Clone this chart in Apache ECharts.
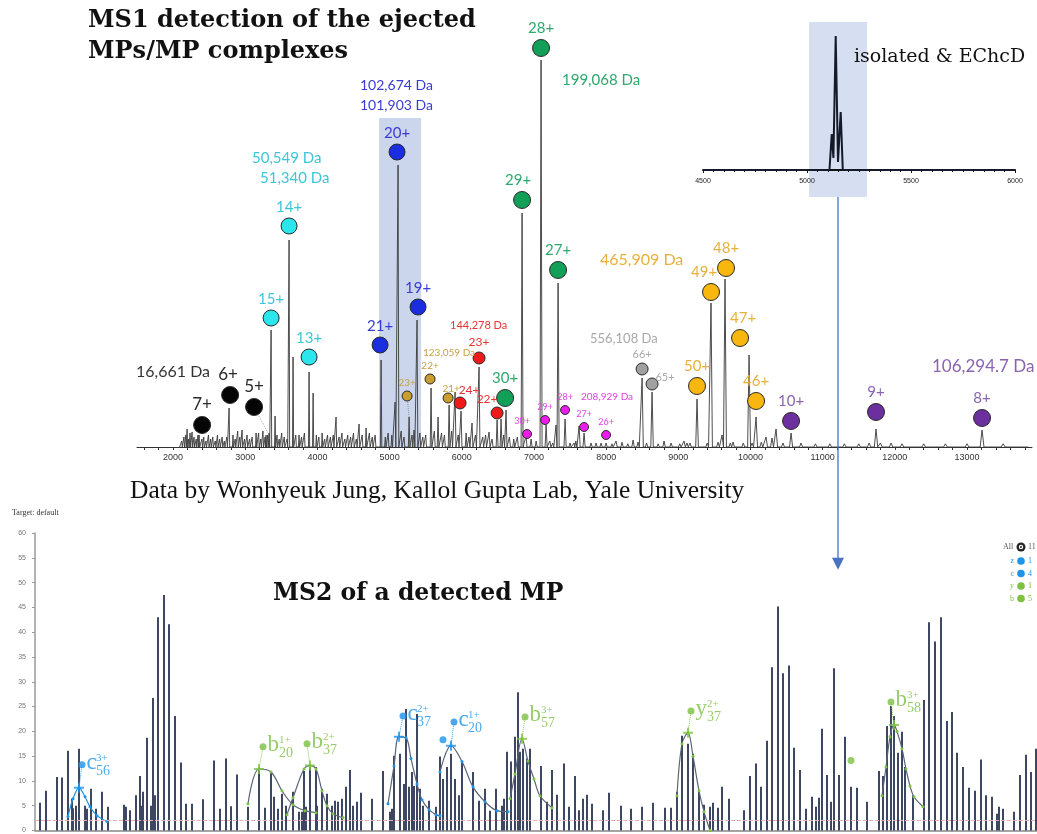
<!DOCTYPE html>
<html><head><meta charset="utf-8">
<script src="https://cdn.jsdelivr.net/npm/echarts@6/dist/echarts.min.js"></script>
<style>html,body{margin:0;padding:0;background:#fff}#c{width:1037px;height:834px}</style>
</head><body><div id="c"></div><script>
// ---------------- MS1 spectrum (m/z, relative intensity) ----------------
const ms1PeakMz  = [2194,2263,2360,2776,2956,3150,3288,3330,3358,3413,3607,3662,3745,3884,3940,4258,4577,4674,4882,5076,5117,5270,5339,5380,5574,5671,5824,5907,5990,6142,6239,6378,6489,6544,6613,6835,6890,7098,7168,7306,7334,7431,7556,7625,7694,7791,7999,8137,8373,8442,8498,8636,8802,9079,9162,9259,9453,9606,9647,9758,9980,10022,10077,10215,10298,10354,10562,11643,11739,11947,13208];
const ms1PeakInt = [4.5,3.75,3,9.75,4.25,3.5,3,3.5,29.25,7.75,51.75,22.5,3,18.75,13.5,7.5,5.75,4.75,21.75,11.25,70.5,7.5,4.25,31.75,14.75,7.5,10.5,13.75,9,6,20,3.75,6.75,7,9.25,58.5,2.75,96.75,5.5,5.5,41,7,1,5.25,3.5,1,1,1.5,1.75,1.25,17.25,13.75,1.5,1.5,1,12,36,3,42,1.25,23,1,7.5,2.5,2.25,4.5,3.5,1,4.5,1,4.25];
const ms1NoiseMz  = [2120,2150,2175,2215,2235,2290,2320,2345,2400,2425,2455,2490,2520,2550,2585,2615,2645,2680,2710,2745,2830,2860,2895,2925,2990,3025,3060,3095,3185,3215,3245,3275,3310,3440,3470,3505,3540,3580,3700,3780,3820,3985,4020,4065,4100,4140,4180,4220,4300,4340,4380,4420,4460,4500,4540,4620,4720,4760,4800,4940,4980,5030,5160,5200,5310,5420,5460,5500,5620,5720,5760,5860,5950,6060,6100,6190,6290,6330,6420,6580,6660,6720,6770,6960,7030,7220,7260,7500,7580,7860,7930,8080,8220,8300,8560,8720,8900,9020,9120,9400,9550,9720,9900,10150,10450,10700,10900,11100,11300,11500,11800,12100,12400,12700,13000,13500];
const ms1NoiseInt = [1.5,2.5,3,2,3.5,2.5,2,3,2,2.5,1.5,3,2,2.5,1.5,3,2,2.5,1.5,2.5,3,2,4,2.5,2,3,2,2.5,3.5,2,4,2.5,3,3,2,3.5,2.5,2,3,2.5,3.5,3,2.5,3.5,2,3,2.5,3,2.5,3.5,2,3,2.5,3.5,2,3,3.5,2.5,3,2.5,3.5,3,4,2.5,3,3.5,2.5,3,4,3.5,3,4,3,3.5,2.5,3,2.5,3,2,3,2.5,2,2.5,2,1.5,1.5,1,1,1.5,1,1,0.8,1.2,0.8,1,0.8,1,0.8,1,1,1.2,1,1,1.2,1,1,0.8,0.8,0.8,0.8,1,0.8,0.8,0.8,0.8,0.8];
const ms1TickLabels = [2000,3000,4000,5000,6000,7000,8000,9000,10000,11000,12000,13000];

// charge-state markers (m/z, marker height, label)
const blackMz = [2402,2790,3122], blackInt = [5.5,13,10], blackLab = ['7+','6+','5+'];
const cyanMz = [3358,3607,3884], cyanInt = [32.25,55.25,22.5], cyanLab = ['15+','14+','13+'];
const blueMz = [4868,5103,5394], blueInt = [25.5,73.75,35], blueLab = ['21+','20+','19+'];
const goldMz = [5242,5560,5810], goldInt = [12.75,17,12.25], goldLab = ['23+','22+','21+'];
const redMz = [5976,6239,6489], redInt = [11,22.25,8.5], redLab = ['24+','23+','22+'];
const greenMz = [6600,6835,7098,7334], greenInt = [12.25,61.75,99.75,44.25], greenLab = ['30+','29+','28+','27+'];
const magMz = [6904,7154,7431,7694,7999], magInt = [3.25,6.75,9.25,5,3], magLab = ['30+','29+','28+','27+','26+'];
const grayMz = [8498,8636], grayInt = [19.5,15.75], grayLab = ['66+','65+'];
const orangeMz = [9259,9453,9661,9855,10077], orangeInt = [15.25,38.75,44.75,27.25,11.5], orangeLab = ['50+','49+','48+','47+','46+'];
const purpleMz = [10562,11739,13208], purpleInt = [6.5,8.75,7.25], purpleLab = ['10+','9+','8+'];
// dotted leader lines marker -> peak
const leaderFromMz = [3122,5242], leaderFromInt = [10,12.75], leaderToMz = [3330,5270], leaderToInt = [3,7.5];
// isolated window (m/z range + height)
const isoWindowMz = [4854,5436], isoWindowInt = 82.25;

// ---------------- inset: isolated ions ----------------
const insetMz  = [4500,5108,5119,5127,5138,5149,5162,5172,6000];
const insetInt = [0,0,25.7,8.6,95.7,5.7,41.4,0,0];
const insetWindowMz = [5010,5288], insetWindowInt = [105.7,-19.3];

// ---------------- MS2 spectrum ----------------
const ms2Pos = [40,46,57,62,68,72,73,76,79,85,87,91,96,102,108,124,126,130,136,140,142,143,147,151,153,155,158,164,169,175,181,186,192,203,214,220,226,231,237,248,259,265,271,274,278,
282,286,293,299,302,304,306,310,316,317,322,327,332,335,338,342,346,350,353,357,361,372,383,390,392,394,400,404,406,409,412,414,417,420,423,429,436,440,443,447,451,455,459,462,473,479,485,490,496,502,504,507,511,515,518,520,523,527,530,
541,547,552,557,564,569,575,579,583,587,592,603,609,621,631,642,653,665,671,677,682,688,693,699,704,710,713,718,722,729,744,750,756,761,767,772,778,783,789,
794,800,806,812,816,819,822,827,831,834,839,845,851,857,867,879,883,887,891,894,898,902,905,913,924,929,935,941,947,952,957,963,969,975,981,986,992,997,999,1003,1014,1020,1026,1031,1036];
const ms2Int = [5.6,8.0,10.8,10.7,16.1,6.4,4.5,5.0,16.5,5.0,4.4,8.4,4.4,7.8,4.8,5.2,4.8,4.1,7.1,11.0,5.0,7.8,18.7,5.0,26.7,7.1,43.0,47.5,41.6,23.1,13.7,5.4,5.4,6.3,14.1,4.4,14.5,4.9,11.3,4.8,12.4,4.6,11.9,6.8,4.4,
7.4,5.0,7.8,3.8,3.8,12.0,4.8,12.8,12.8,5.0,8.4,7.4,5.0,6.0,5.8,6.4,8.8,12.2,5.0,5.8,7.6,6.4,12.0,3.8,4.4,15.1,15.5,9.4,24.5,8.8,11.8,9.0,23.5,8.4,5.0,6.0,4.8,14.9,10.4,12.8,15.5,10.4,7.1,13.9,11.8,6.0,8.4,4.0,8.4,5.0,6.4,15.9,13.9,18.9,27.9,15.9,16.5,14.5,16.5,
13.0,5.8,12.2,7.2,13.5,4.8,11.0,4.1,6.4,7.2,5.4,4.1,7.6,5.0,4.4,4.8,5.6,4.6,4.6,7.8,19.1,17.5,15.5,7.8,5.2,4.8,5.6,4.6,8.8,6.4,4.1,11.0,13.5,8.8,18.1,32.9,45.2,31.7,33.3,
16.7,12.2,4.4,6.8,4.8,6.6,20.5,11.2,5.8,32.7,11.2,18.9,8.8,8.6,5.8,12.0,11.0,21.1,25.1,23.1,15.7,19.9,12.8,7.1,26.3,42.0,38.1,43.0,22.1,23.9,15.7,12.8,8.6,8.0,14.3,7.1,6.8,3.4,4.8,4.4,3.8,11.2,15.3,11.8,16.5];
const ms2Threshold = 2;
const ms2YTicks = [0,5,10,15,20,25,30,35,40,45,50,55,60];
const arrowTipInt = 52.6;

// fragment annotations
const annKind = ['c','b','b','c','c','b','y','b'];
const annSup  = ['3+','1+','2+','2+','1+','3+','2+','3+'];
const annSub  = ['56','20','37','37','20','57','37','58'];
const annPos  = [82,263,307,403,454,525,691,891];
const annInt  = [13.25,16.9,17.5,23.1,21.9,22.9,24.1,25.9];
const annPeakPos = [79,259,310,399,451,522,688,894];
const annPeakInt = [8.6,12.4,13.1,18.9,17.1,18.5,19.7,21.3];
const loneDotPos = [443,851], loneDotInt = [18.3,14.1], loneDotKind = ['c','b'];
// isotope envelope fits
const envC56X = [68,73,79,85,90,97,107],            envC56Y = [2.8,6.4,8.6,6.8,4.8,3.0,1.8];
const envB20X = [248,259,271,282,293,305,316],      envB20Y = [5.4,12.4,11.8,8.0,5.2,4.0,3.6];
const envB37X = [287,293,304,310,316,322,327,333,343], envB37Y = [3.2,6.6,12.4,13.1,12.4,8.0,5.0,3.4,2.6];
const envC37X = [388,394,399,406,411,417,422,429,436,440], envC37Y = [5.4,13.0,18.9,18.7,14.5,9.4,6.2,4.2,3.2,3.0];
const envC20X = [440,451,462,473,485,497,508],      envC20Y = [11.8,17.1,13.9,8.8,5.8,4.0,3.8];
const envB57X = [510,515,522,528,534,540,552],      envB57Y = [6.4,11.4,18.5,14.0,10.4,7.0,4.6];
const envY37X = [677,682,688,693,699,704,710],      envY37Y = [7.0,17.5,19.7,15.0,8.0,3.8,0];
const envB58X = [882,886,890,894,897,902,906,910,914,923], envB58Y = [7.0,12.8,18.9,21.3,20.0,16.5,12.4,9.0,6.8,4.8];
const legendIon = ['z','c','y','b'], legendCount = ['1','4','1','5'];

// ---------------- build ----------------
const BLUE = '#1e94e6', GREEN = '#7cc142';
const chart = echarts.init(document.getElementById('c'));

function profile(mzs, ints) {
  const pts = [];
  mzs.forEach((m, i) => { const w = Math.max(8, m * 0.002); pts.push([m - w, 0], [m, ints[i]], [m + w, 0]); });
  pts.sort((a, b) => a[0] - b[0]);
  return pts;
}
const ms1Profile = profile(ms1PeakMz.concat(ms1NoiseMz), ms1PeakInt.concat(ms1NoiseInt));
ms1Profile.unshift([2090, 0]);
ms1Profile.push([13850, 0]);

const labelOffsets = {
  'black:6+':[-2,0], 'gold:21+':[3,4], 'red:24+':[9,3], 'red:22+':[-10,2], 'green:29+':[-4,0],
  'mag:30+':[-5,0], 'gray:65+':[13,8], 'orange:49+':[-7,0], 'orange:47+':[3,0]
};
function chargeSeries(key, mz, it, lab, color, lc, size, fs) {
  return {
    type: 'scatter', xAxisIndex: 0, yAxisIndex: 0, z: 5,
    symbolSize: size,
    itemStyle: { color: color, borderColor: '#2a2a2a', borderWidth: 1, opacity: 1 },
    data: mz.map((m, i) => {
      const d = { value: [m, it[i]] };
      const o = labelOffsets[key + ':' + lab[i]];
      if (o) d.label = { offset: o };
      return d;
    }),
    label: { show: true, position: 'top', distance: 3, formatter: p => lab[p.dataIndex],
      color: lc, fontSize: fs, fontFamily: 'Lato' }
  };
}

const ms2Bars = ms2Pos.map((x, i) => [x, ms2Int[i]]);
function env(xs, ys, lineColor, dotColor) {
  return { type: 'line', xAxisIndex: 2, yAxisIndex: 2, smooth: 0.35, z: 4,
    data: xs.map((x, i) => [x, ys[i]]), symbol: 'circle', symbolSize: 3,
    itemStyle: { color: dotColor }, lineStyle: { color: lineColor, width: 1.2 } };
}
const PLUS = 'path://M4,0 L6,0 L6,4 L10,4 L10,6 L6,6 L6,10 L4,10 L4,6 L0,6 L0,4 L4,4 Z';
const annColor = k => (k === 'c' || k === 'z') ? BLUE : GREEN;
const SERIFF = 'Liberation Serif';

const series = [
  { type: 'line', xAxisIndex: 0, yAxisIndex: 0, data: ms1Profile, symbol: 'none', z: 2,
    lineStyle: { color: '#3a3a3a', width: 0.9 } },
  chargeSeries('black', blackMz, blackInt, blackLab, '#050505', '#2a2a2a', 17, 17),
  chargeSeries('cyan', cyanMz, cyanInt, cyanLab, '#2ce6ee', '#3cc6da', 16, 15),
  chargeSeries('blue', blueMz, blueInt, blueLab, '#1a2ee0', '#3a3ad6', 16, 15),
  chargeSeries('gold', goldMz, goldInt, goldLab, '#c99e2e', '#c9a040', 10, 10),
  chargeSeries('red', redMz, redInt, redLab, '#ee1a1a', '#e63434', 12, 12),
  chargeSeries('green', greenMz, greenInt, greenLab, '#12a058', '#2ea86c', 17, 15),
  chargeSeries('mag', magMz, magInt, magLab, '#e81ee8', '#e040e0', 9, 9),
  chargeSeries('gray', grayMz, grayInt, grayLab, '#a0a0a0', '#a8a8a8', 12, 11),
  chargeSeries('orange', orangeMz, orangeInt, orangeLab, '#f8b70e', '#e8b03c', 17, 15),
  chargeSeries('purple', purpleMz, purpleInt, purpleLab, '#6b2f9e', '#8a64b0', 17, 15),
  { type: 'lines', coordinateSystem: 'cartesian2d', xAxisIndex: 0, yAxisIndex: 0, z: 3,
    data: leaderFromMz.map((m, i) => ({ coords: [[m, leaderFromInt[i]], [leaderToMz[i], leaderToInt[i]]] })),
    lineStyle: { color: '#555', width: 1, type: 'dotted' } },
  { type: 'line', xAxisIndex: 1, yAxisIndex: 1, data: insetMz.map((m, i) => [m, insetInt[i]]),
    symbol: 'none', z: 3, lineStyle: { color: '#151a28', width: 2 } },
  { type: 'bar', xAxisIndex: 2, yAxisIndex: 2, data: ms2Bars, barWidth: 2, z: 2,
    itemStyle: { color: '#3d4762' },
    markLine: { silent: true, symbol: 'none', label: { show: false },
      lineStyle: { color: '#eab0b0', type: 'dashed', width: 1 }, data: [{ yAxis: ms2Threshold }] } },
  env(envC56X, envC56Y, BLUE, BLUE),
  env(envB20X, envB20Y, '#5b6478', GREEN),
  env(envB37X, envB37Y, '#5b6478', GREEN),
  env(envC37X, envC37Y, '#5b6478', BLUE),
  env(envC20X, envC20Y, '#5b6478', BLUE),
  env(envB57X, envB57Y, '#5b6478', GREEN),
  env(envY37X, envY37Y, '#5b6478', GREEN),
  env(envB58X, envB58Y, '#5b6478', GREEN),
  { type: 'scatter', xAxisIndex: 2, yAxisIndex: 2, z: 6, symbol: PLUS, symbolSize: 10,
    data: annPeakPos.map((x, i) => ({ value: [x, annPeakInt[i]], itemStyle: { color: annColor(annKind[i]) } })) },
  { type: 'lines', coordinateSystem: 'cartesian2d', xAxisIndex: 2, yAxisIndex: 2, z: 5,
    data: annPos.map((x, i) => ({ coords: [[x, annInt[i]], [annPeakPos[i], annPeakInt[i]]],
      lineStyle: { color: annColor(annKind[i]) } })),
    lineStyle: { width: 1, type: 'dotted', opacity: 0.9 } },
  { type: 'scatter', xAxisIndex: 2, yAxisIndex: 2, z: 7, symbolSize: 7,
    data: annPos.map((x, i) => ({ value: [x, annInt[i]], itemStyle: { color: annColor(annKind[i]) },
      label: { color: annColor(annKind[i]) } })),
    label: { show: true, position: 'right', distance: 1, formatter: p => annKind[p.dataIndex],
      fontSize: 23, fontFamily: SERIFF, lineHeight: 23, offset: [0, -2] } },
  { type: 'scatter', xAxisIndex: 2, yAxisIndex: 2, z: 7, symbolSize: 0,
    data: annPos.map((x, i) => ({ value: [x, annInt[i]], label: { color: annColor(annKind[i]),
      distance: annKind[i] === 'c' ? 14 : 16 } })),
    label: { show: true, position: 'right', formatter: p => '{p|' + annSup[p.dataIndex] + '}\n{q|' + annSub[p.dataIndex] + '}',
      fontFamily: SERIFF, offset: [0, 1],
      rich: { p: { fontSize: 11, lineHeight: 11, fontFamily: SERIFF }, q: { fontSize: 14, lineHeight: 15, fontFamily: SERIFF } } } },
  { type: 'scatter', xAxisIndex: 2, yAxisIndex: 2, z: 7, symbolSize: 7,
    data: loneDotPos.map((x, i) => ({ value: [x, loneDotInt[i]], itemStyle: { color: annColor(loneDotKind[i]) } })) }
];

const ms1MinorTicks = [];
for (let v = 1600; v <= 13800; v += 200) ms1MinorTicks.push(v);
const plain = v => String(v);

chart.setOption({
  animation: false,
  backgroundColor: '#fff',
  grid: [
    { left: 137, width: 895, top: 47, height: 400 },
    { left: 703, width: 312, top: 30, height: 140 },
    { left: 35, right: 0, top: 533, height: 299 }
  ],
  xAxis: [
    { gridIndex: 0, type: 'value', min: 1500, max: 13900,
      axisLine: { lineStyle: { color: '#333', width: 1 } },
      axisTick: { customValues: ms1MinorTicks, length: 3, lineStyle: { color: '#333' } },
      axisLabel: { customValues: ms1TickLabels, formatter: plain, fontSize: 9, color: '#333', margin: 6, fontFamily: 'Liberation Sans' },
      splitLine: { show: false } },
    { gridIndex: 1, type: 'value', min: 4500, max: 6000, interval: 500,
      axisLine: { lineStyle: { color: '#111', width: 2 } },
      axisTick: { length: 3, lineStyle: { color: '#111' } },
      minorTick: { show: true, splitNumber: 10, length: 2, lineStyle: { color: '#111' } },
      axisLabel: { formatter: plain, fontSize: 7, color: '#222', margin: 8, fontFamily: 'Liberation Sans' },
      splitLine: { show: false } },
    { gridIndex: 2, type: 'value', min: 35, max: 1037,
      axisLine: { lineStyle: { color: '#888', width: 1.5 } },
      axisTick: { show: false }, axisLabel: { show: false }, splitLine: { show: false } }
  ],
  yAxis: [
    { gridIndex: 0, type: 'value', min: 0, max: 100, show: false, splitLine: { show: false } },
    { gridIndex: 1, type: 'value', min: 0, max: 100, show: false, splitLine: { show: false } },
    { gridIndex: 2, type: 'value', min: 0, max: 60, interval: 5,
      axisLine: { show: true, lineStyle: { color: '#999', width: 1.5 } },
      axisTick: { show: true, length: 3, lineStyle: { color: '#999' } },
      axisLabel: { fontSize: 7, color: '#777', margin: 9, fontFamily: 'Liberation Sans',
        customValues: ms2YTicks },
      splitLine: { show: false } }
  ],
  series: series
});

// ---------- overlay graphics positioned through the axes ----------
const w0 = chart.convertToPixel({ gridIndex: 0 }, [isoWindowMz[0], isoWindowInt]);
const w1 = chart.convertToPixel({ gridIndex: 0 }, [isoWindowMz[1], 0]);
const i0 = chart.convertToPixel({ gridIndex: 1 }, [insetWindowMz[0], insetWindowInt[0]]);
const i1 = chart.convertToPixel({ gridIndex: 1 }, [insetWindowMz[1], insetWindowInt[1]]);
const tip = chart.convertToPixel({ gridIndex: 2 }, [500, arrowTipInt]);
const ax = (i0[0] + i1[0]) / 2;

function txt(x, y, s, size, fill, family, weight, align) {
  return { type: 'text', x: x, y: y, z: 10, style: { text: s, fill: fill,
    font: (weight || 'normal') + ' ' + size + 'px ' + family,
    align: align || 'left', verticalAlign: 'middle', textAlign: align || 'left', textVerticalAlign: 'middle' } };
}
const SERIF = '"Liberation Serif"';
const HEAVY = '"DejaVu Serif"';
const g = [
  { type: 'rect', z: -1, shape: { x: w0[0], y: w0[1], width: w1[0] - w0[0], height: w1[1] - w0[1] },
    style: { fill: '#cbd6ec' } },
  { type: 'rect', z: -1, shape: { x: i0[0], y: i0[1], width: i1[0] - i0[0], height: i1[1] - i0[1] },
    style: { fill: '#d5dff1' } },
  { type: 'line', z: 10, shape: { x1: ax, y1: i1[1], x2: ax, y2: tip[1] - 11 },
    style: { stroke: '#4a72c2', lineWidth: 1.3 } },
  { type: 'polygon', z: 10, shape: { points: [[ax - 6, tip[1] - 12], [ax + 6, tip[1] - 12], [ax, tip[1]]] },
    style: { fill: '#4a72c2' } },
  txt(88, 21, 'MS1 detection of the ejected', 24, '#111', HEAVY, 'bold'),
  txt(88, 52, 'MPs/MP complexes', 24, '#111', HEAVY, 'bold'),
  txt(854, 57, 'isolated & EChcD', 19, '#111', HEAVY),
  txt(130, 491, 'Data by Wonhyeuk Jung, Kallol Gupta Lab, Yale University', 25.5, '#111', SERIF),
  txt(273, 594, 'MS2 of a detected MP', 23.5, '#111', HEAVY, 'bold'),
  txt(12, 513, 'Target: default', 8, '#333', SERIF),
  txt(136, 372, '16,661 Da', 16, '#333', 'Lato'),
  txt(252, 158, '50,549 Da', 15, '#3cc6da', 'Lato'),
  txt(260, 178, '51,340 Da', 15, '#3cc6da', 'Lato'),
  txt(360, 85, '102,674 Da', 14, '#3a3ad6', 'Lato'),
  txt(360, 105, '101,903 Da', 14, '#3a3ad6', 'Lato'),
  txt(562, 80, '199,068 Da', 15, '#2ea86c', 'Lato'),
  txt(450, 325, '144,278 Da', 11, '#e63434', 'Lato'),
  txt(423, 353, '123,059 Da', 10, '#c9a040', 'Lato'),
  txt(590, 339, '556,108 Da', 13, '#a8a8a8', 'Lato'),
  txt(600, 260, '465,909 Da', 16, '#e8b03c', 'Lato'),
  txt(581, 397, '208,929 Da', 10, '#e040e0', 'Lato'),
  txt(932, 367, '106,294.7 Da', 17, '#8a64b0', 'Lato'),
  txt(1003, 547, 'All', 8, '#555', SERIF),
  { type: 'circle', z: 10, shape: { cx: 1021, cy: 547, r: 4.5 }, style: { fill: '#222' } },
  { type: 'circle', z: 11, shape: { cx: 1021, cy: 547, r: 2.2 }, style: { fill: '#fff' } },
  { type: 'circle', z: 12, shape: { cx: 1021, cy: 547, r: 1 }, style: { fill: '#222' } },
  txt(1028, 547, '11', 8, '#555', SERIF)
];
legendIon.forEach((k, i) => {
  const y = 561 + i * 12.5, c = annColor(k);
  g.push(txt(1014, y, k, 8, c, SERIF, 'normal', 'right'));
  g.push({ type: 'circle', z: 10, shape: { cx: 1021, cy: y, r: 3.8 }, style: { fill: c } });
  g.push(txt(1028, y, legendCount[i], 8, c, SERIF));
});
chart.setOption({ graphic: g });
</script></body></html>
